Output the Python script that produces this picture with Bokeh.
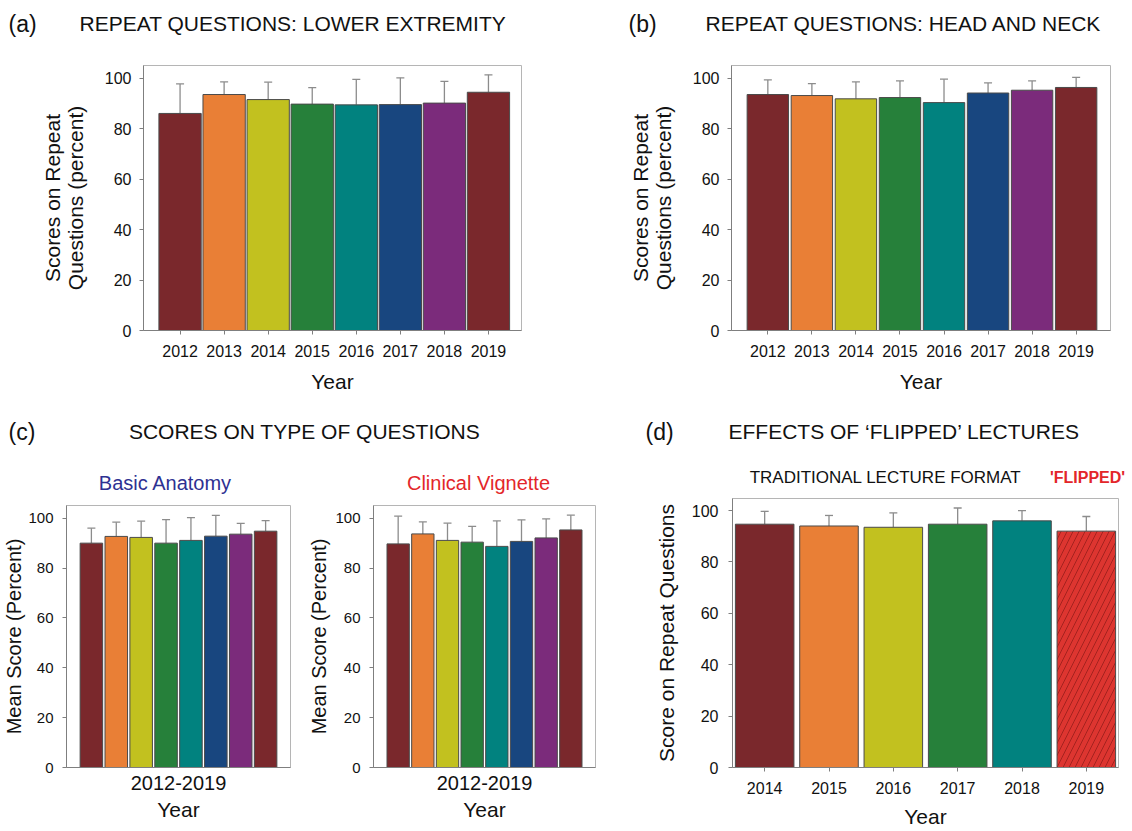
from bokeh.plotting import figure
from bokeh.models import ColumnDataSource, Range1d, FixedTicker, Whisker, TeeHead, Label
from bokeh.layouts import row, column
from bokeh.embed import file_html
from bokeh.resources import INLINE

FONT = "Liberation Sans"

# ---------------- data ----------------
years = [2012, 2013, 2014, 2015, 2016, 2017, 2018, 2019]

# (a) repeat questions: lower extremity
a_mean = [86.0, 93.5, 91.5, 89.7, 89.4, 89.5, 90.1, 94.4]
a_sd = [11.7, 5.0, 6.9, 6.5, 10.1, 10.6, 8.6, 6.9]

# (b) repeat questions: head and neck
b_mean = [93.5, 93.1, 91.8, 92.3, 90.3, 94.1, 95.2, 96.3]
b_sd = [5.8, 4.7, 6.7, 6.6, 9.3, 4.0, 3.7, 4.0]

# (c) scores on type of questions
basic_mean = [90.0, 92.7, 92.3, 90.0, 91.1, 92.8, 93.6, 94.8]
basic_sd = [6.0, 5.7, 6.5, 9.4, 9.1, 8.3, 4.3, 4.2]
clin_mean = [89.7, 93.7, 91.1, 90.4, 88.7, 90.7, 92.1, 95.3]
clin_sd = [11.1, 4.8, 6.9, 6.3, 10.2, 8.6, 7.6, 5.9]

# (d) effects of flipped lectures
d_years = [2014, 2015, 2016, 2017, 2018, 2019]
d_mean = [94.7, 94.0, 93.5, 94.7, 96.0, 92.0]
d_sd = [5.0, 4.1, 5.6, 6.3, 4.0, 5.7]
d_hatch = [" ", " ", " ", " ", " ", "/"]

y_ticks = [0, 20, 40, 60, 80, 100]

pal8 = ["#7A282C", "#E97F36", "#C2C11F", "#26803A", "#01827F", "#18467F", "#7B2B7B", "#7A282C"]
pal6 = ["#7A282C", "#E97F36", "#C2C11F", "#26803A", "#01827F", "#DD3530"]

AX = "#7f7f7f"
ERR = "#8c8c8c"


def header(w, h, items):
    p = figure(width=w, height=h, x_range=Range1d(0, w), y_range=Range1d(0, h),
               toolbar_location=None, output_backend="svg",
               x_axis_location=None, y_axis_location=None, min_border=0,
               outline_line_color=None, frame_align=False)
    p.grid.visible = False
    for (x, y, text, size, color, style, align) in items:
        p.add_layout(Label(x=x, y=h - y, text=text, text_font=FONT,
                           text_font_size=f"{size}px", text_color=color,
                           text_font_style=style, text_align=align,
                           text_baseline="middle"))
    return p


def panel(w, h, xr, ytop, x, mean, sd, colors, borders, bar_w,
          ylabel, xlabel="Year", hatch=None, group_label=None,
          ylab_standoff=12, ylab_size=21, ytick_size=16, ytick_standoff=8,
          xtick_standoff=10, xlab_standoff=10):
    p = figure(width=w, height=h, x_range=Range1d(*xr), y_range=Range1d(0, ytop),
               toolbar_location=None, output_backend="svg", frame_align=False,
               min_border_left=borders[0], min_border_right=borders[1],
               min_border_top=borders[2], min_border_bottom=borders[3])
    up = [m + s for m, s in zip(mean, sd)]
    data = dict(x=x, top=mean, up=up, color=colors)
    if hatch is not None:
        data["hatch"] = hatch
    src = ColumnDataSource(data)
    kw = {}
    if hatch is not None:
        kw = dict(hatch_pattern="hatch", hatch_color="#9E1F1C", hatch_scale=12,
                  hatch_weight=0.9)
    p.vbar(x="x", top="top", bottom=0, width=bar_w, fill_color="color",
           line_color="#4a4a4a", line_width=1, source=src, **kw)
    p.add_layout(Whisker(source=src, base="x", lower="top", upper="up",
                         line_color=ERR, line_width=1.3,
                         upper_head=TeeHead(size=8, line_color=ERR, line_width=1.3),
                         lower_head=None))
    p.grid.visible = False
    p.outline_line_color = "#b5b5b5"
    p.yaxis.ticker = FixedTicker(ticks=y_ticks)
    p.axis.axis_line_color = AX
    p.axis.major_tick_line_color = AX
    if group_label is None:
        p.xaxis.ticker = FixedTicker(ticks=x)
        p.xaxis.major_label_overrides = {v: str(v) for v in x}
        p.xaxis.major_tick_out = 4
    else:
        mid = (x[0] + x[-1]) / 2
        p.xaxis.ticker = FixedTicker(ticks=[mid])
        p.xaxis.major_label_overrides = {mid: group_label}
        p.xaxis.major_tick_line_color = None
        p.xaxis.major_tick_out = 0
    p.yaxis.major_tick_out = 4
    p.axis.major_tick_in = 0
    p.axis.minor_tick_line_color = None
    p.axis.major_label_text_font = FONT
    p.axis.major_label_text_color = "#111111"
    p.axis.axis_label_text_font = FONT
    p.axis.axis_label_text_font_style = "normal"
    p.axis.axis_label_text_color = "#111111"
    p.axis.axis_label_text_line_height = 1.0
    p.yaxis.major_label_text_font_size = f"{ytick_size}px"
    p.xaxis.major_label_text_font_size = "16px" if group_label is None else "20px"
    p.yaxis.axis_label = ylabel
    p.xaxis.axis_label = xlabel
    p.yaxis.axis_label_text_font_size = f"{ylab_size}px"
    p.xaxis.axis_label_text_font_size = "21px"
    p.yaxis.major_label_standoff = ytick_standoff
    p.yaxis.axis_label_standoff = ylab_standoff
    p.xaxis.major_label_standoff = xtick_standoff
    p.xaxis.axis_label_standoff = xlab_standoff
    return p


# ---------------- top row (y 0-400) ----------------
hA = header(566, 50, [(8, 23, "(a)", 23, "#111111", "normal", "left"),
                      (79, 23, "REPEAT QUESTIONS: LOWER EXTREMITY", 21, "#111111", "normal", "left")])
pA = panel(566, 350, (2011.17, 2019.75), 105, years, a_mean, a_sd, pal8,
           (143, 45, 15, 70), 0.96, "Scores on Repeat\nQuestions (percent)",
           ylab_standoff=15)

hB = header(566, 50, [(62, 23, "(b)", 23, "#111111", "normal", "left"),
                      (139, 23, "REPEAT QUESTIONS: HEAD AND NECK", 21, "#111111", "normal", "left")])
pB = panel(566, 350, (2011.175, 2019.78), 105, years, b_mean, b_sd, pal8,
           (165, 22, 15, 70), 0.94, "Scores on Repeat\nQuestions (percent)",
           ylab_standoff=15)

# ---------------- bottom row (y 400-830) ----------------
hC = header(620, 98, [(8, 31, "(c)", 23, "#111111", "normal", "left"),
                      (304, 31, "SCORES ON TYPE OF QUESTIONS", 21, "#111111", "normal", "center"),
                      (165, 82, "Basic Anatomy", 20, "#2E3192", "normal", "center"),
                      (478, 82, "Clinical Vignette", 20, "#E3262A", "normal", "center")])
pC1 = panel(305, 332, (2011.0, 2020.0), 105.1, years, basic_mean, basic_sd, pal8,
            (65, 15, 7, 63), 0.905, "Mean Score (Percent)", group_label="2012-2019",
            ylab_standoff=0, ylab_size=20, ytick_size=15, ytick_standoff=9,
            xtick_standoff=8, xlab_standoff=5)
pC2 = panel(315, 332, (2011.0, 2020.0), 105.1, years, clin_mean, clin_sd, pal8,
            (65, 25, 7, 63), 0.905, "Mean Score (Percent)", group_label="2012-2019",
            ylab_standoff=2, ylab_size=20, ytick_size=15, ytick_standoff=9,
            xtick_standoff=8, xlab_standoff=5)

hD = header(512, 93, [(25, 31, "(d)", 23, "#111111", "normal", "left"),
                      (108, 31, "EFFECTS OF \u2018FLIPPED\u2019 LECTURES", 21, "#111111", "normal", "left"),
                      (265, 77, "TRADITIONAL LECTURE FORMAT", 17, "#111111", "normal", "center"),
                      (467, 77, "'FLIPPED'", 16, "#E3262A", "bold", "center")])
pD = panel(512, 337, (2013.5, 2019.5), 104.7, d_years, d_mean, d_sd, pal6,
           (112, 14, 5, 62), 0.91, "Score on Repeat Questions", hatch=d_hatch,
           ylab_standoff=11, ytick_standoff=10, xtick_standoff=10, xlab_standoff=8)

layout = column(
    row(column(hA, pA, spacing=0), column(hB, pB, spacing=0), spacing=0),
    row(column(hC, row(pC1, pC2, spacing=0), spacing=0), column(hD, pD, spacing=0), spacing=0),
    spacing=0,
)

open("out.html", "w").write(file_html(layout, INLINE))
